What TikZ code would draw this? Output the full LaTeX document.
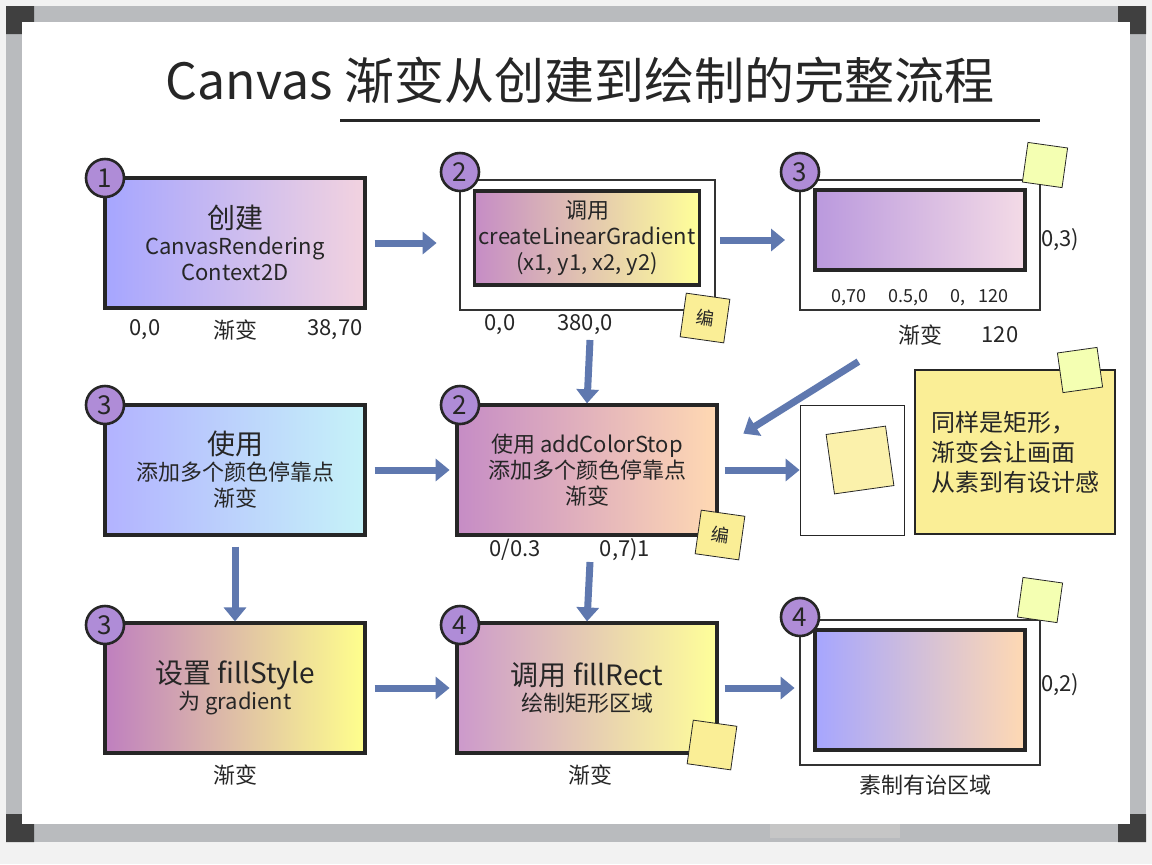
\documentclass[tikz,border=0pt]{standalone}
\usepackage{fontspec}
\setmainfont{Noto Sans CJK SC}
\usetikzlibrary{positioning}
\usetikzlibrary{arrows.meta}
\definecolor{boardgray}{RGB}{185,187,190}
\definecolor{badgeviolet}{RGB}{175,140,215}
\definecolor{arrowblue}{RGB}{95,120,175}
\definecolor{notey}{RGB}{250,238,150}
\tikzset{
    stage/.style = {draw = black!85, line width = 1.6pt, minimum width = 130pt, minimum height = 65pt,
                   align = center, font = \fontsize{11}{13}\selectfont, inner sep = 2pt},
    frame/.style = {draw = black!80, line width = 1.4pt, fill = white},
    badge/.style = {circle, draw = black!85, line width = 1.3pt, fill = badgeviolet, minimum size = 19pt,
                    inner sep = 0pt, font = \fontsize{13}{13}\selectfont},
    flow/.style = {-{Triangle[length = 7pt, width = 11pt]}, line width = 3.5pt, arrowblue},
    lbl/.style = {font = \fontsize{11}{13}\selectfont},
    tag/.style = {font = \fontsize{9}{11}\selectfont}
}
\begin{document}
\begin{tikzpicture}[x = 0.5pt, y = -0.5pt, black!85]

    \useasboundingbox (0,0) rectangle (1152,864);

    % board
    \fill[gray!10] (0,0) rectangle (1152,864);
    \fill[boardgray] (6,6) rectangle (1146,842);
    \fill[black!75] (6,6) rectangle (34,34) (1118,6) rectangle (1146,34)
        (6,814) rectangle (34,842) (1118,814) rectangle (1146,842);
    \fill[white] (22,22) rectangle (1130,824);
    \fill[gray!45] (770,824) rectangle (900,838);

    % title
    \node (title) at (580,80) {\fontsize{25}{28}\selectfont Canvas 渐变从创建到绘制的完整流程};
    \draw[line width = 1.5pt] (340,120) -- (1040,120);

    % row 1
    \node (s1) at (235,243) [stage, left color = blue!35, right color = violet!25!pink!40]
        {\fontsize{14}{16}\selectfont 创建\\CanvasRendering\\Context2D};
    \node[badge] at (105,178) {1};
    \node[lbl] at (145,330) {0,0};
    \node[lbl] at (235,330) {渐变};
    \node[lbl] at (335,330) {38,70};

    \draw[frame] (460,180) rectangle (715,310);
    \node (s2) at (587,238) [stage, minimum width = 112pt, minimum height = 47pt,
        left color = violet!45, right color = yellow!40]
        {调用\\createLinearGradient\\(x1, y1, x2, y2)};
    \node[badge] at (460,172) {2};
    \node[lbl] at (500,325) {0,0};
    \node[lbl] at (585,325) {380,0};
    \node (n1) at (705,318) [draw, fill = notey, minimum size = 22pt, rotate = -8, tag] {编};

    \draw[frame] (800,180) rectangle (1040,310);
    \node (s3) at (920,230) [stage, minimum width = 105pt, minimum height = 40pt,
        left color = blue!35!violet!40, right color = violet!30!pink!30] {};
    \node[badge] at (800,172) {3};
    \node[tag] at (920,298) {0,70 \quad 0.5,0 \quad 0, \ \ 120};
    \node[lbl] at (1060,240) {0,3)};
    \node[lbl] at (920,335) {渐变};
    \node[lbl] at (1000,335) {120};
    \node (i1) at (1045,165) [draw, fill = green!15!yellow!30, minimum size = 20pt, rotate = -8] {};

    % row 2
    \node (s4) at (235,470) [stage, left color = blue!30, right color = violet!20!cyan!25]
        {\fontsize{14}{16}\selectfont 使用\\添加多个颜色停靠点\\渐变};
    \node[badge] at (105,405) {3};

    \node (s5) at (587,470) [stage, left color = violet!45, right color = orange!30]
        {使用 addColorStop\\添加多个颜色停靠点\\渐变};
    \node[badge] at (460,405) {2};
    \node[lbl] at (515,550) {0/0.3};
    \node[lbl] at (625,550) {0,7)1};
    \node (n2) at (720,535) [draw, fill = notey, minimum size = 22pt, rotate = -8, tag] {编};

    \node (img) at (852,470) [draw, fill = white, minimum width = 52pt, minimum height = 65pt] {};
    \node at (860,460) [draw, fill = notey!80, minimum width = 30pt, minimum height = 30pt, rotate = 8] {};
    \node (note) at (1015,452) [draw, line width = 1.3pt, fill = notey, minimum width = 100pt,
        minimum height = 82pt, align = left, font = \fontsize{12}{15}\selectfont]
        {同样是矩形，\\渐变会让画面\\从素到有设计感};
    \node (i2) at (1080,370) [draw, fill = green!15!yellow!30, minimum size = 20pt, rotate = 8] {};

    % row 3
    \node (s6) at (235,688) [stage, left color = violet!50, right color = yellow!45]
        {\fontsize{14}{16}\selectfont 设置 fillStyle\\为 gradient};
    \node[badge] at (105,625) {3};
    \node[lbl] at (235,775) {渐变};

    \node (s7) at (587,688) [stage, left color = violet!40, right color = yellow!40]
        {\fontsize{14}{16}\selectfont 调用 fillRect\\绘制矩形区域};
    \node[badge] at (460,625) {4};
    \node[lbl] at (590,775) {渐变};
    \node (n3) at (712,745) [draw, fill = notey, minimum size = 22pt, rotate = -8] {};

    \draw[frame] (800,620) rectangle (1040,765);
    \node (s8) at (920,690) [stage, minimum width = 105pt, minimum height = 60pt,
        left color = blue!35, right color = orange!30] {};
    \node[badge] at (800,617) {4};
    \node[lbl] at (1060,685) {0,2)};
    \node[lbl] at (925,785) {素制有诒区域};
    \node (i3) at (1040,600) [draw, fill = green!15!yellow!30, minimum size = 20pt, rotate = -8] {};

    % arrows
    \draw[flow] (s1.east) ++(8,0) -- ++(62,0);
    \draw[flow] (720,240) -- (785,240);
    \draw[flow] (s3.south west) ++(45,90) -- ++(-115,72);
    \draw[flow] (590,340) -- (s5.north);
    \draw[flow] (s4.east) ++(8,0) -- ++(75,0);
    \draw[flow] (s5.east) ++(6,0) -- (img.west);
    \draw[flow] (s4.south) ++(0,10) -- (s6.north);
    \draw[flow] (590,562) -- (s7.north);
    \draw[flow] (s6.east) ++(8,0) -- ++(75,0);
    \draw[flow] (s7.east) ++(6,0) -- ++(70,0);

\end{tikzpicture}
\end{document}
